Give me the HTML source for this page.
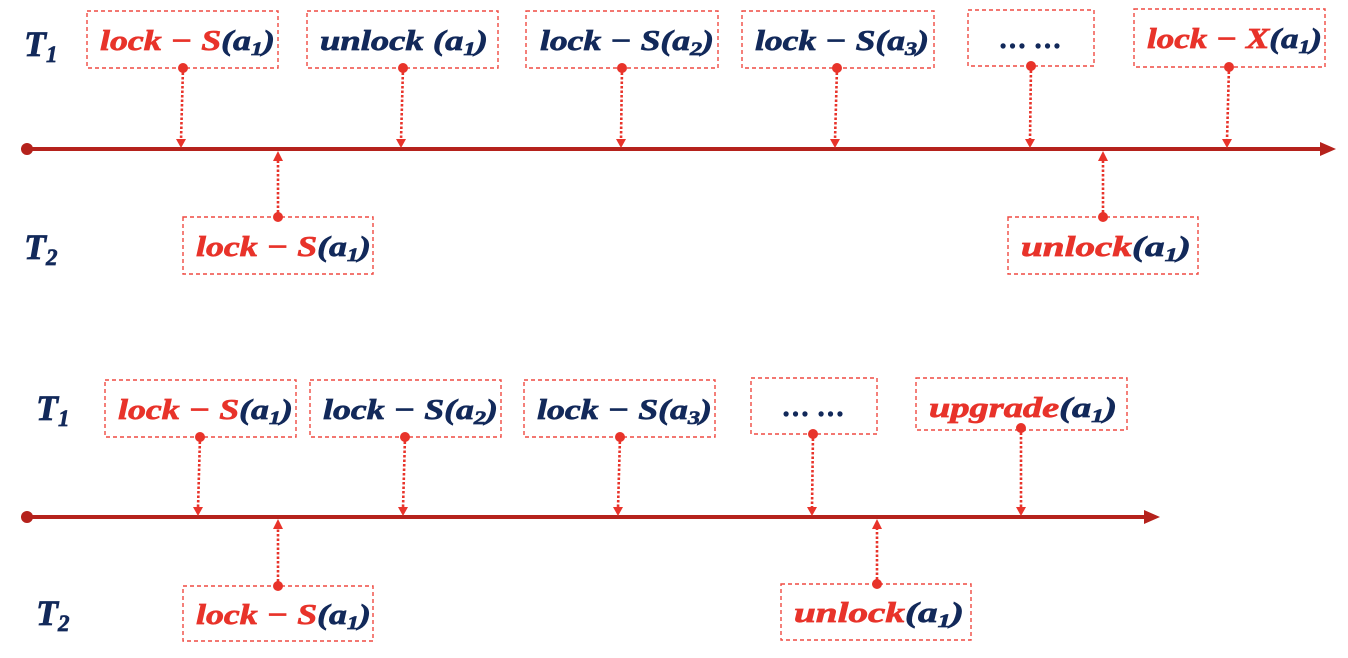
<!DOCTYPE html>
<html><head><meta charset="utf-8"><style>html,body{margin:0;padding:0;background:#fff}svg{display:block}</style></head>
<body>
<svg width="1348" height="658" viewBox="0 0 1348 658" xmlns="http://www.w3.org/2000/svg" font-family="'Liberation Serif',serif" font-weight="bold" font-style="italic">
<style>
.bx{fill:none;stroke:#ef4a42;stroke-width:1.4;stroke-dasharray:4 3}
.cn{stroke:#e8332a;stroke-width:2.6;stroke-dasharray:2.5 2}
.r{fill:#e8332a;stroke:#e8332a;stroke-width:0.7}
.n{fill:#12295a;stroke:#12295a;stroke-width:0.7}
.ax{stroke:#b5221c;stroke-width:4}
.tl{font-size:36px}
.lb{font-size:28px}
</style>
<text x="24" y="56" class="n tl">T<tspan style="font-size:23px" dy="6">1</tspan></text>
<text x="24" y="259" class="n tl">T<tspan style="font-size:23px" dy="6">2</tspan></text>
<text x="36" y="420" class="n tl">T<tspan style="font-size:23px" dy="6">1</tspan></text>
<text x="36" y="625" class="n tl">T<tspan style="font-size:23px" dy="6">2</tspan></text>
<line class="ax" x1="26" y1="149" x2="1322" y2="149"/><circle cx="27" cy="149" r="6" fill="#b5221c"/><path d="M1320,142 L1336,149 L1320,156 Z" fill="#b5221c"/>
<line class="ax" x1="26" y1="517" x2="1146" y2="517"/><circle cx="27" cy="517" r="6" fill="#b5221c"/><path d="M1144,510 L1160,517 L1144,524 Z" fill="#b5221c"/>

<g class="lb">
<rect class="bx" x="87" y="11" width="191" height="57"/>
<text class="lb" x="100" y="50" textLength="175" lengthAdjust="spacingAndGlyphs"><tspan class="r">lock − S</tspan><tspan class="n">(a<tspan style="font-size:19px" dy="5">1</tspan><tspan dy="-5">)</tspan></tspan></text>
<rect class="bx" x="307" y="11" width="191" height="57"/>
<text x="320" y="50" textLength="168" lengthAdjust="spacingAndGlyphs" class="n lb">unlock (a<tspan style="font-size:19px" dy="5">1</tspan><tspan dy="-5">)</tspan></text>
<rect class="bx" x="526" y="11" width="192" height="57"/>
<text x="540" y="50" textLength="174" lengthAdjust="spacingAndGlyphs" class="n lb">lock − S(a<tspan style="font-size:19px" dy="5">2</tspan><tspan dy="-5">)</tspan></text>
<rect class="bx" x="742" y="11" width="192" height="57"/>
<text x="755" y="50" textLength="174" lengthAdjust="spacingAndGlyphs" class="n lb">lock − S(a<tspan style="font-size:19px" dy="5">3</tspan><tspan dy="-5">)</tspan></text>
<rect class="bx" x="968" y="10" width="126" height="56"/>
<text x="1031" y="48" text-anchor="middle" class="n lb">… …</text>
<rect class="bx" x="1134" y="9" width="191" height="58"/>
<text class="lb" x="1147" y="48" textLength="175" lengthAdjust="spacingAndGlyphs"><tspan class="r">lock − X</tspan><tspan class="n">(a<tspan style="font-size:19px" dy="5">1</tspan><tspan dy="-5">)</tspan></tspan></text>
<rect class="bx" x="183" y="217" width="190" height="57"/>
<text class="lb" x="196" y="256" textLength="175" lengthAdjust="spacingAndGlyphs"><tspan class="r">lock − S</tspan><tspan class="n">(a<tspan style="font-size:19px" dy="5">1</tspan><tspan dy="-5">)</tspan></tspan></text>
<rect class="bx" x="1008" y="217" width="190" height="57"/>
<text class="lb" x="1021" y="256" textLength="170" lengthAdjust="spacingAndGlyphs"><tspan class="r">unlock</tspan><tspan class="n">(a<tspan style="font-size:19px" dy="5">1</tspan><tspan dy="-5">)</tspan></tspan></text>

<rect class="bx" x="105" y="380" width="191" height="57"/>
<text class="lb" x="118" y="419" textLength="175" lengthAdjust="spacingAndGlyphs"><tspan class="r">lock − S</tspan><tspan class="n">(a<tspan style="font-size:19px" dy="5">1</tspan><tspan dy="-5">)</tspan></tspan></text>
<rect class="bx" x="310" y="380" width="191" height="57"/>
<text x="323" y="419" textLength="175" lengthAdjust="spacingAndGlyphs" class="n lb">lock − S(a<tspan style="font-size:19px" dy="5">2</tspan><tspan dy="-5">)</tspan></text>
<rect class="bx" x="524" y="380" width="191" height="57"/>
<text x="537" y="419" textLength="175" lengthAdjust="spacingAndGlyphs" class="n lb">lock − S(a<tspan style="font-size:19px" dy="5">3</tspan><tspan dy="-5">)</tspan></text>
<rect class="bx" x="751" y="378" width="126" height="56"/>
<text x="814" y="416" text-anchor="middle" class="n lb">… …</text>
<rect class="bx" x="916" y="378" width="211" height="52"/>
<text class="lb" x="929" y="417" textLength="188" lengthAdjust="spacingAndGlyphs"><tspan class="r">upgrade</tspan><tspan class="n">(a<tspan style="font-size:19px" dy="5">1</tspan><tspan dy="-5">)</tspan></tspan></text>
<rect class="bx" x="183" y="586" width="190" height="55"/>
<text class="lb" x="196" y="624" textLength="175" lengthAdjust="spacingAndGlyphs"><tspan class="r">lock − S</tspan><tspan class="n">(a<tspan style="font-size:19px" dy="5">1</tspan><tspan dy="-5">)</tspan></tspan></text>
<rect class="bx" x="781" y="584" width="190" height="56"/>
<text class="lb" x="794" y="622" textLength="170" lengthAdjust="spacingAndGlyphs"><tspan class="r">unlock</tspan><tspan class="n">(a<tspan style="font-size:19px" dy="5">1</tspan><tspan dy="-5">)</tspan></tspan></text>
</g>

<g>
<line class="cn" x1="183" y1="68" x2="181" y2="140"/><circle cx="183" cy="68" r="5" fill="#e8332a"/><path d="M176,139 L186,139 L181,148 Z" fill="#e8332a"/>
<line class="cn" x1="403" y1="68" x2="401" y2="140"/><circle cx="403" cy="68" r="5" fill="#e8332a"/><path d="M396,139 L406,139 L401,148 Z" fill="#e8332a"/>
<line class="cn" x1="622" y1="68" x2="621" y2="140"/><circle cx="622" cy="68" r="5" fill="#e8332a"/><path d="M616,139 L626,139 L621,148 Z" fill="#e8332a"/>
<line class="cn" x1="837" y1="68" x2="835" y2="140"/><circle cx="837" cy="68" r="5" fill="#e8332a"/><path d="M830,139 L840,139 L835,148 Z" fill="#e8332a"/>
<line class="cn" x1="1031" y1="66" x2="1030" y2="140"/><circle cx="1031" cy="66" r="5" fill="#e8332a"/><path d="M1025,139 L1035,139 L1030,148 Z" fill="#e8332a"/>
<line class="cn" x1="1229" y1="67" x2="1227" y2="140"/><circle cx="1229" cy="67" r="5" fill="#e8332a"/><path d="M1222,139 L1232,139 L1227,148 Z" fill="#e8332a"/>
<line class="cn" x1="278" y1="217" x2="278" y2="160"/><circle cx="278" cy="217" r="5" fill="#e8332a"/><path d="M273,161 L283,161 L278,151 Z" fill="#e8332a"/>
<line class="cn" x1="1103" y1="217" x2="1103" y2="160"/><circle cx="1103" cy="217" r="5" fill="#e8332a"/><path d="M1098,161 L1108,161 L1103,151 Z" fill="#e8332a"/>
<line class="cn" x1="200" y1="437" x2="198" y2="508"/><circle cx="200" cy="437" r="5" fill="#e8332a"/><path d="M193,507 L203,507 L198,516 Z" fill="#e8332a"/>
<line class="cn" x1="405" y1="437" x2="403" y2="508"/><circle cx="405" cy="437" r="5" fill="#e8332a"/><path d="M398,507 L408,507 L403,516 Z" fill="#e8332a"/>
<line class="cn" x1="620" y1="437" x2="618" y2="508"/><circle cx="620" cy="437" r="5" fill="#e8332a"/><path d="M613,507 L623,507 L618,516 Z" fill="#e8332a"/>
<line class="cn" x1="813" y1="434" x2="812" y2="508"/><circle cx="813" cy="434" r="5" fill="#e8332a"/><path d="M807,507 L817,507 L812,516 Z" fill="#e8332a"/>
<line class="cn" x1="1021" y1="428" x2="1021" y2="508"/><circle cx="1021" cy="428" r="5" fill="#e8332a"/><path d="M1016,507 L1026,507 L1021,516 Z" fill="#e8332a"/>
<line class="cn" x1="278" y1="586" x2="278" y2="528"/><circle cx="278" cy="586" r="5" fill="#e8332a"/><path d="M273,529 L283,529 L278,519 Z" fill="#e8332a"/>
<line class="cn" x1="877" y1="584" x2="877" y2="528"/><circle cx="877" cy="584" r="5" fill="#e8332a"/><path d="M872,529 L882,529 L877,519 Z" fill="#e8332a"/>
</g>
</svg>
</body></html>
